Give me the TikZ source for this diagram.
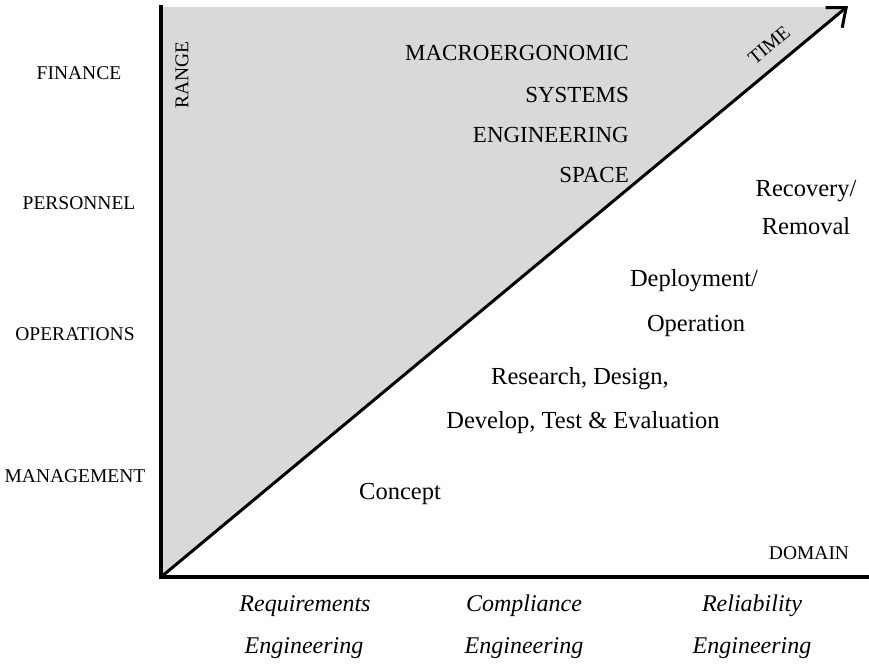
\documentclass[tikz,border=0pt]{standalone}
\usepackage{fontspec}
\setmainfont{Liberation Serif}
\usetikzlibrary{arrows.meta}
\definecolor{spacegray}{HTML}{D9D9D9}
\tikzset{
  axisline/.style={line width=4.5pt, line cap=rect, line join=miter},
  timeline/.style={line width=3pt, -{Straight Barb[length=16pt,width=26pt,line width=3pt]}},
  caplabel/.style={inner sep=0pt, font=\fontsize{19.5}{22}\selectfont},
  spacelabel/.style={inner sep=0pt, anchor=east, font=\fontsize{23}{26}\selectfont},
  phase/.style={inner sep=0pt, font=\fontsize{24.5}{28}\selectfont},
  discipline/.style={inner sep=0pt, font=\fontsize{24}{28}\selectfont\itshape}
}
\begin{document}
\begin{tikzpicture}[x=1pt,y=-1pt]
\useasboundingbox (0,0) rectangle (869,669);
% axes frame
\coordinate (origin) at (161,577);
\coordinate (ytop) at (161,7);
\coordinate (xend) at (869,577);
\coordinate (tip) at (848,6);
\coordinate (graycorner) at (846,7);
% shaded systems space
\fill[spacegray] (origin) -- (ytop) -- (graycorner) -- cycle;
\draw[axisline] (ytop) -- (origin) -- (xend);
\draw[timeline] (origin) -- (tip);
% range categories
\node[caplabel] (finance) at (79,73) {FINANCE};
\node[caplabel] (personnel) at (79,203) {PERSONNEL};
\node[caplabel] (operations) at (75,334) {OPERATIONS};
\node[caplabel] (management) at (75,476) {MANAGEMENT};
\node[caplabel, rotate=90] (range) at (182,75) {RANGE};
\node[caplabel] (domain) at (809,553) {DOMAIN};
\node[caplabel, rotate=39.7] (time) at (769,45) {TIME};
% systems space title
\node[spacelabel] (macro) at (629,53) {MACROERGONOMIC};
\node[spacelabel] (systems) at (629,95) {SYSTEMS};
\node[spacelabel] (engineering) at (629,135) {ENGINEERING};
\node[spacelabel] (space) at (629,175) {SPACE};
% life-cycle phases
\node[phase, align=center] (recovery) at (806,208) {Recovery/\\[10pt]Removal};
\node[phase] (deploy1) at (694,281) {Deployment/};
\node[phase] (deploy2) at (696,326) {Operation};
\node[phase] (rdte1) at (580,379) {Research, Design,};
\node[phase] (rdte2) at (583,423) {Develop, Test \& Evaluation};
\node[phase] (concept) at (400,494) {Concept};
% engineering disciplines
\node[discipline] (req1) at (305,606) {Requirements};
\node[discipline] (req2) at (304,648) {Engineering};
\node[discipline] (comp1) at (524,606) {Compliance};
\node[discipline] (comp2) at (524,648) {Engineering};
\node[discipline] (rel1) at (752,606) {Reliability};
\node[discipline] (rel2) at (752,648) {Engineering};
\end{tikzpicture}
\end{document}
